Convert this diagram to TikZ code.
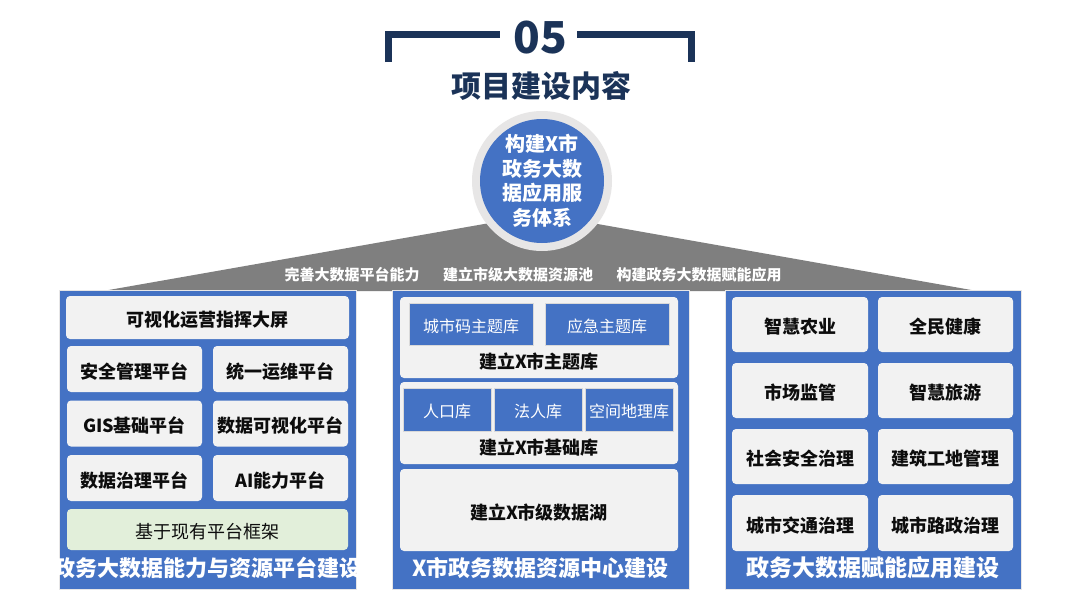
\documentclass[tikz,border=0pt]{standalone}
\usepackage{fontspec}
\setmainfont{Noto Sans CJK SC}
\definecolor{navy}{HTML}{1B3358}
\definecolor{pblue}{HTML}{4472C4}
\definecolor{lgray}{HTML}{F2F2F2}
\definecolor{dgray}{HTML}{7F7F7F}
\definecolor{ring}{HTML}{E7E6E6}
\definecolor{lgreen}{HTML}{E2EFDA}
\definecolor{txt}{HTML}{0D0D0D}
\begin{document}
\begin{tikzpicture}[x=1pt,y=-1pt,
  panel/.style={draw=ring, line width=0.8pt, fill=pblue, minimum width=297pt, minimum height=299pt, inner sep=0pt},
  gbox/.style={fill=lgray, rounded corners=4pt, inner sep=0pt, text=txt, text height=19pt, text depth=0.3pt, font=\fontsize{18}{21}\selectfont\bfseries},
  bbox/.style={fill=pblue, draw=white!85!black, line width=0.5pt, inner sep=0pt, text=white, text height=16.5pt, text depth=0.3pt, font=\fontsize{16}{19}\selectfont},
  lbl/.style={text=txt, inner sep=0pt, font=\fontsize{18}{21}\selectfont\bfseries},
  ptitle/.style={text=white, inner sep=0pt, font=\fontsize{22}{26}\selectfont\bfseries},
  toplbl/.style={text=white, inner sep=0pt, font=\fontsize{15}{18}\selectfont\bfseries}
]
\useasboundingbox (0,0) rectangle (1080,608);
\fill[white] (0,0) rectangle (1080,608);

% header
\draw[navy, line width=7pt] (388,62) -- (388,34) -- (500,34);
\draw[navy, line width=7pt] (577,34) -- (691,34) -- (691,62);
\node[text=navy, font=\fontsize{44}{48}\selectfont\bfseries, inner sep=0pt] (num) at (540,38) {05};
\node[text=navy, font=\fontsize{30}{34}\selectfont\bfseries, inner sep=0pt] (title) at (541,86) {项目建设内容};

% gray fan
\fill[dgray] (103,291) -- (541,214) -- (977,291) -- cycle;

% circle
\node[circle, fill=ring, minimum size=140pt, inner sep=0pt] (ringc) at (542,181) {};
\node[circle, fill=pblue, minimum size=124pt, inner sep=0pt, text=white, align=center,
      font=\fontsize{20}{24.5}\selectfont\bfseries] (core) at (542,181) {构建X市\\政务大数\\据应用服\\务体系};

% top labels
\node[toplbl] (l1) at (352,275) {完善大数据平台能力};
\node[toplbl] (l2) at (518,275) {建立市级大数据资源池};
\node[toplbl] (l3) at (699,275) {构建政务大数据赋能应用};

% ---------------- left panel
\node[panel] (pL) at (207.5,439.5) {};
\node[gbox, minimum width=283pt, minimum height=43pt] (L0) at (207.5,317.5) {可视化运营指挥大屏};
\node[gbox, minimum width=135pt, minimum height=46pt] (L11) at (134.5,369) {安全管理平台};
\node[gbox, minimum width=135pt, minimum height=46pt] (L12) at (280.5,369) {统一运维平台};
\node[gbox, minimum width=135pt, minimum height=46pt] (L21) at (134.5,423.5) {GIS基础平台};
\node[gbox, minimum width=135pt, minimum height=46pt] (L22) at (280.5,423.5) {数据可视化平台};
\node[gbox, minimum width=135pt, minimum height=46pt] (L31) at (134.5,478) {数据治理平台};
\node[gbox, minimum width=135pt, minimum height=46pt] (L32) at (280.5,478) {AI能力平台};
\node[gbox, fill=lgreen, minimum width=281pt, minimum height=41pt, font=\fontsize{18}{21}\selectfont] (L4) at (207.5,529.5) {基于现有平台框架};
\begin{scope}
\clip (59,550) rectangle (356,589);
\node[ptitle] (tL) at (207.5,568) {政务大数据能力与资源平台建设};
\end{scope}

% ---------------- middle panel
\node[panel] (pM) at (540.5,439.5) {};
\node[gbox, minimum width=278pt, minimum height=81pt] (G1) at (539,337.5) {};
\node[bbox, minimum width=124pt, minimum height=42pt] (M11) at (471,324) {城市码主题库};
\node[bbox, minimum width=124pt, minimum height=42pt] (M12) at (607,324) {应急主题库};
\node[lbl] (M1t) at (539,362) {建立X市主题库};
\node[gbox, minimum width=278pt, minimum height=82pt] (G2) at (539,423) {};
\node[bbox, minimum width=88pt, minimum height=43pt] (M21) at (447,409.5) {人口库};
\node[bbox, minimum width=88pt, minimum height=43pt] (M22) at (538,409.5) {法人库};
\node[bbox, minimum width=88pt, minimum height=43pt] (M23) at (629,409.5) {空间地理库};
\node[lbl] (M2t) at (539,448) {建立X市基础库};
\node[gbox, minimum width=278pt, minimum height=82pt] (G3) at (539,510) {建立X市级数据湖};
\node[ptitle] (tM) at (540.5,568) {X市政务数据资源中心建设};

% ---------------- right panel
\node[panel, minimum width=296pt] (pR) at (873,439.5) {};
\node[gbox, minimum width=136pt, minimum height=55pt] (R11) at (800,324.5) {智慧农业};
\node[gbox, minimum width=135pt, minimum height=55pt] (R12) at (945.5,324.5) {全民健康};
\node[gbox, minimum width=136pt, minimum height=55pt] (R21) at (800,390.5) {市场监管};
\node[gbox, minimum width=135pt, minimum height=55pt] (R22) at (945.5,390.5) {智慧旅游};
\node[gbox, minimum width=136pt, minimum height=55pt] (R31) at (800,456.5) {社会安全治理};
\node[gbox, minimum width=135pt, minimum height=55pt] (R32) at (945.5,456.5) {建筑工地管理};
\node[gbox, minimum width=136pt, minimum height=56pt] (R41) at (800,523) {城市交通治理};
\node[gbox, minimum width=135pt, minimum height=56pt] (R42) at (945.5,523) {城市路政治理};
\node[ptitle, font=\fontsize{23}{27}\selectfont\bfseries] (tR) at (873,568) {政务大数据赋能应用建设};
\end{tikzpicture}
\end{document}
